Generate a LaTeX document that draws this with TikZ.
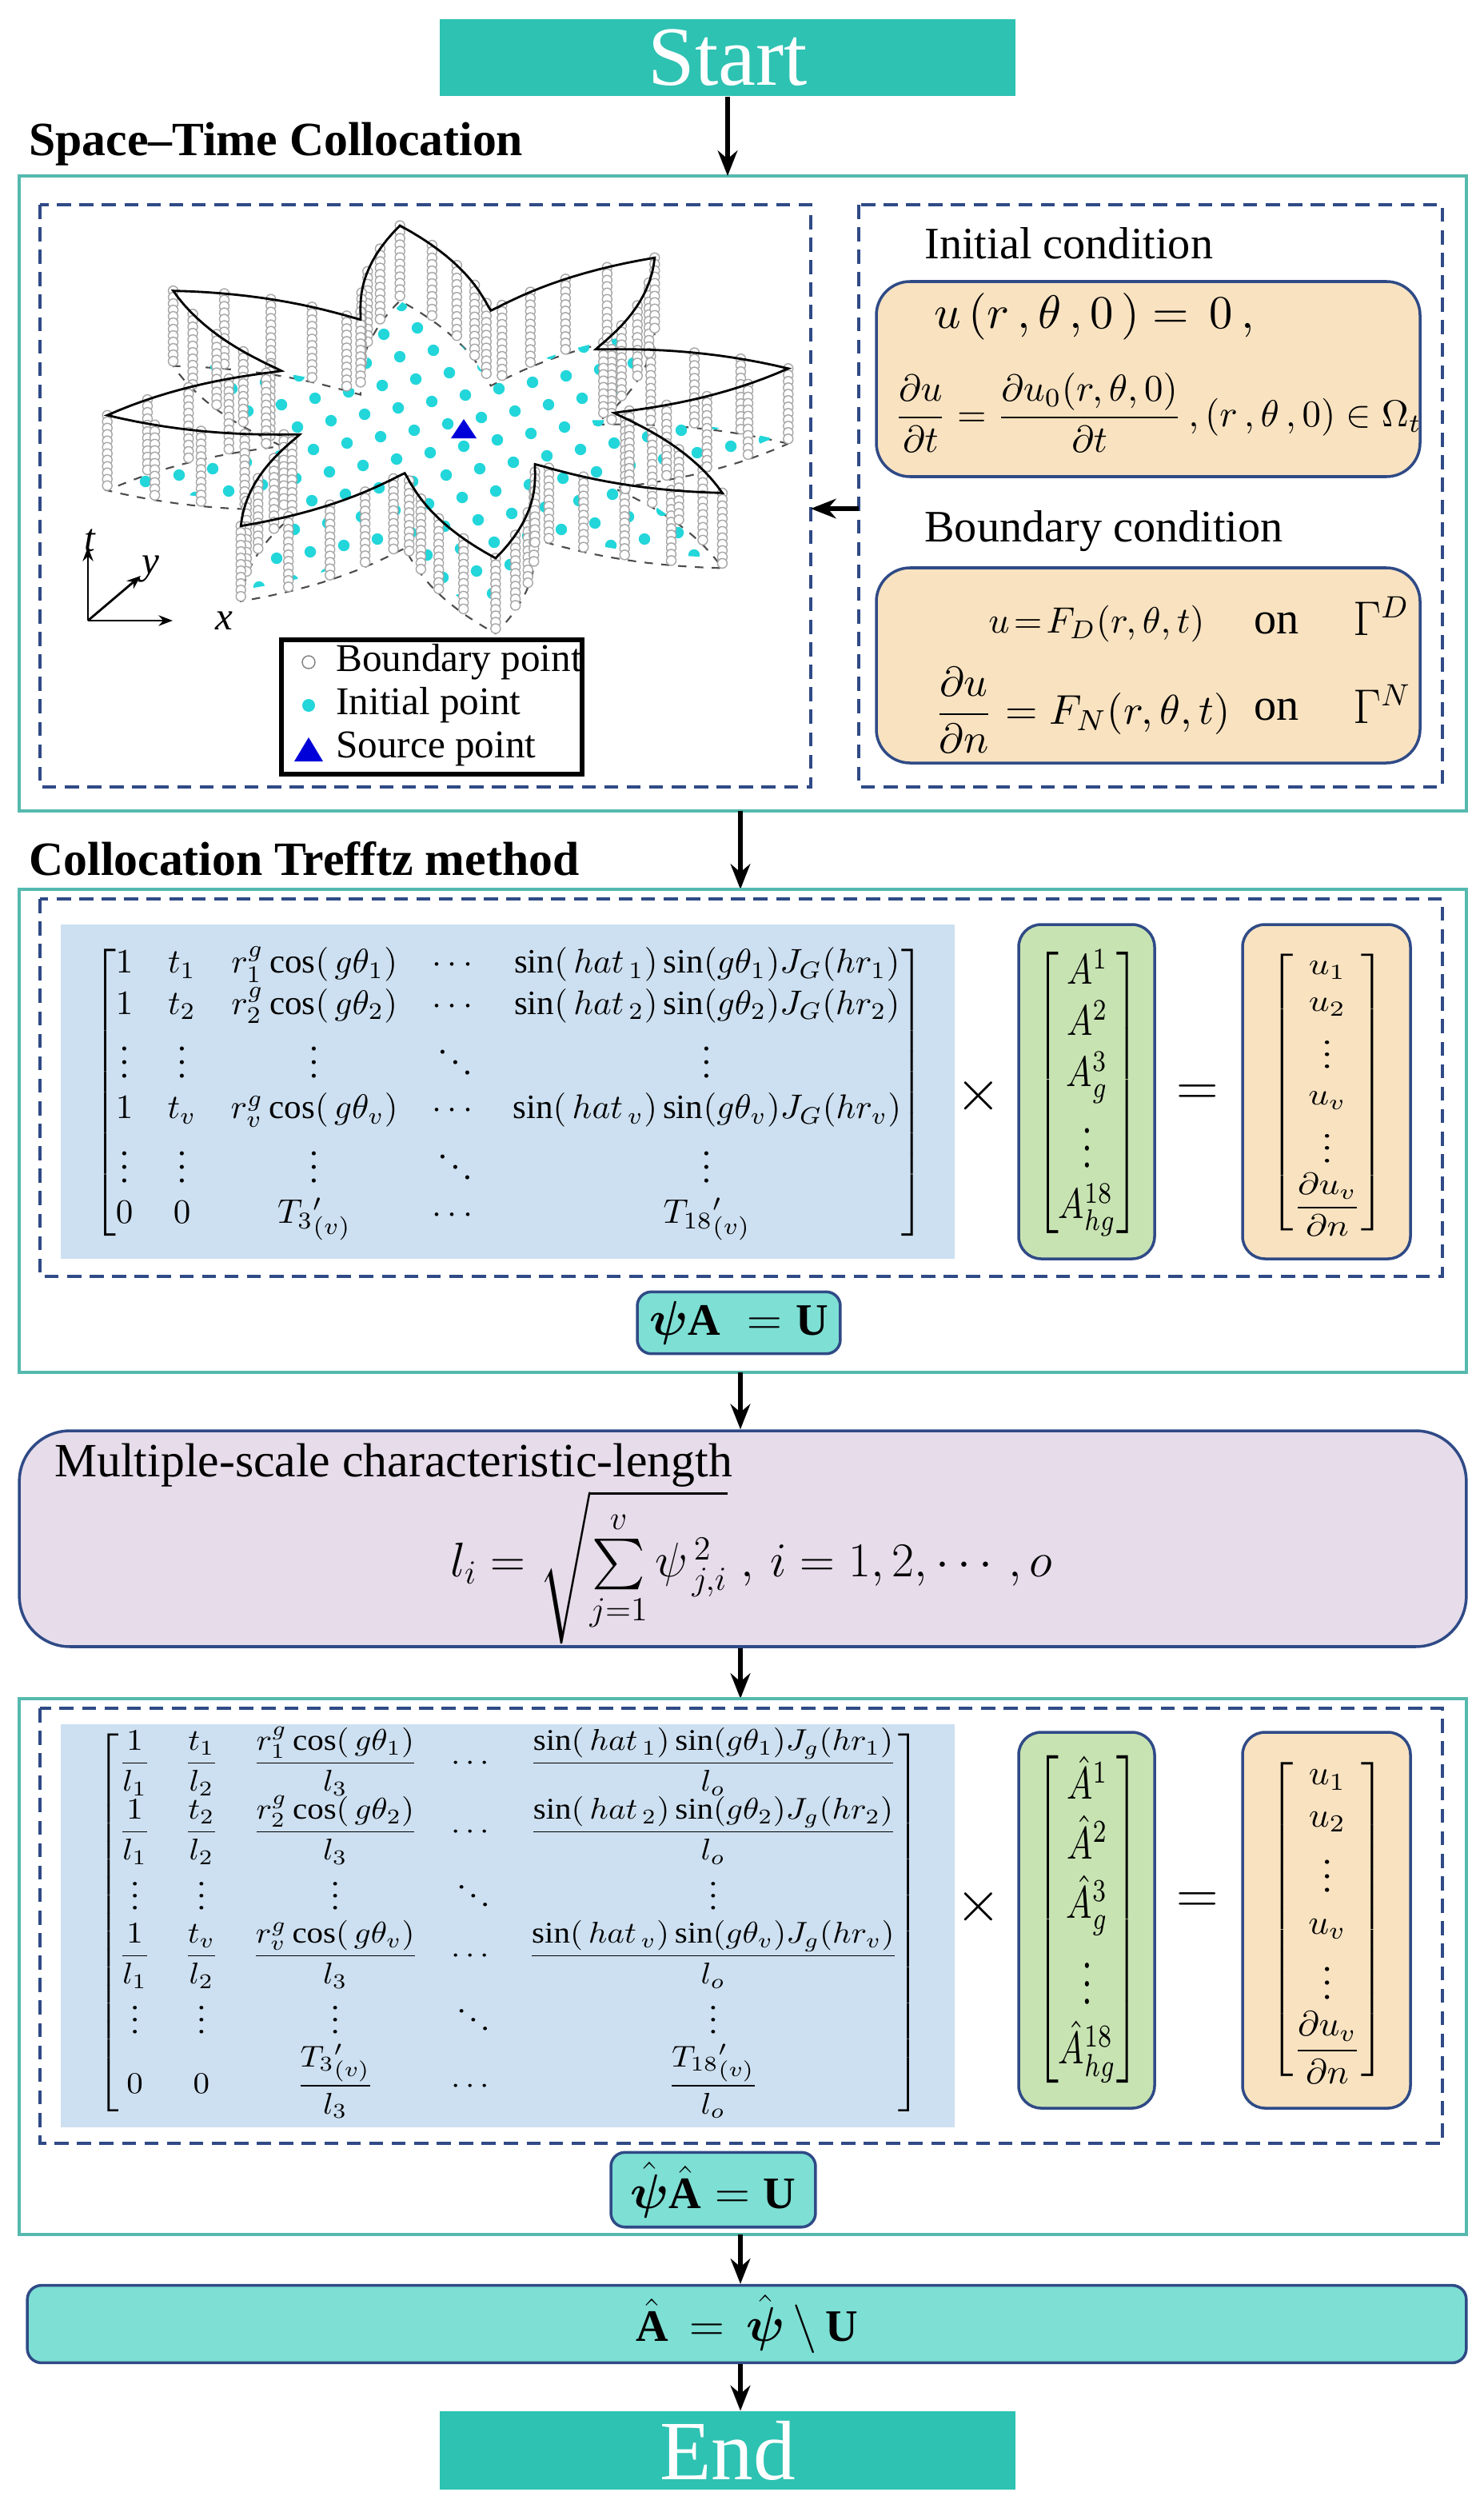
\documentclass[tikz,border=0pt]{standalone}
\usepackage{amsmath}
\usepackage{amssymb}
\usepackage{fontspec}
\setmainfont{Liberation Serif}
\usepackage{graphicx}
\usetikzlibrary{arrows.meta}
\definecolor{teal1}{HTML}{2EC2B2}
\definecolor{teal2}{HTML}{7EDFD4}
\definecolor{frame}{HTML}{55B9AE}
\definecolor{dashc}{HTML}{2F4A86}
\definecolor{tan1}{HTML}{F8E2C0}
\definecolor{green1}{HTML}{C8E3B2}
\definecolor{blue1}{HTML}{CDE0F1}
\definecolor{purp}{HTML}{E6DCEA}
\definecolor{cyan1}{HTML}{22D6DA}
\begin{document}
\begin{tikzpicture}[x=0.02cm,y=-0.02cm,
  term/.style={fill=teal1,draw=none,minimum width=7.2cm,minimum height=0.96cm,text=white,font=\fontsize{30}{32}\selectfont},
  outer/.style={draw=frame,line width=1pt},
  dbox/.style={draw=dashc,dashed,line width=0.9pt,dash pattern=on 5pt off 3pt},
  rbox/.style={draw=dashc,line width=1pt,rounded corners=12pt},
  eqbox/.style={fill=teal2,draw=dashc,line width=1pt,rounded corners=5pt,font=\fontsize{16}{18}\selectfont},
  head/.style={anchor=west,font=\bfseries\fontsize{17}{19}\selectfont},
  txt/.style={anchor=west,font=\fontsize{16}{18}\selectfont},
  lgd/.style={anchor=west,font=\fontsize{14}{16}\selectfont},
  arr/.style={-{Stealth[length=9pt,width=7pt]},line width=1.6pt}]
\useasboundingbox (0,0) rectangle (928,1568);
\fill[white] (0,0) rectangle (928,1568);
% Start
\node[term] (start) at (455,36) {Start};
\node[head] (h1) at (12,90) {Space–Time Collocation};
\draw[outer] (12,110) rectangle (917,507);
\coordinate (o1top) at (455,110);
\draw[arr] (start.south) -- (o1top);
\draw[dbox] (25,128) rectangle (507,492);
\draw[dbox] (537,128) rectangle (902,492);
% star figure
\def\rr#1{(0.5+0.5*(abs(1-2*mod(#1+720,45)/45))^1.15)}
\begin{scope}
\draw[black!70,dashed,line width=0.6pt] plot[domain=0:360,samples=241] ({280+215*\rr{\x}*cos(\x+8)},{292-105*\rr{\x}*sin(\x+8)}) -- cycle;
\begin{scope}
\clip plot[domain=0:360,samples=241] ({280+205*\rr{\x}*cos(\x+8)},{288-100*\rr{\x}*sin(\x+8)}) -- cycle;
\foreach \i in {-12,...,12}{\foreach \j in {-8,...,8}{
  \fill[cyan1] ({280+\i*21+\j*10},{265+\j*14-\i*4}) circle (3.6);}}
\end{scope}
\foreach \t in {0,5,...,355}{
  \foreach \k in {0,...,11}{
   \draw[gray!70,fill=white,line width=0.4pt] ({280+215*\rr{\t}*cos(\t+8)},{245-105*\rr{\t}*sin(\t+8)+\k*4}) circle (3);}}
\draw[black,line width=0.8pt] plot[domain=0:360,samples=241] ({280+215*\rr{\x}*cos(\x+8)},{245-105*\rr{\x}*sin(\x+8)}) -- cycle;
\fill[blue!85!black] (282,274) -- (298,274) -- (290,262) -- cycle;
\end{scope}
% axes
\coordinate (ax0) at (55,388);
\coordinate (axt) at (55,342);
\coordinate (axx) at (108,388);
\coordinate (axy) at (88,360);
\draw[-{Stealth[length=5pt]},line width=0.8pt] (ax0) -- (axt);
\draw[-{Stealth[length=5pt]},line width=0.8pt] (ax0) -- (axx);
\draw[-{Stealth[length=5pt]},line width=0.8pt] (ax0) -- (axy);
\node[font=\itshape\fontsize{14}{14}\selectfont] (lt) at (56,338) {t};
\node[font=\itshape\fontsize{14}{14}\selectfont] (ly) at (94,356) {y};
\node[font=\itshape\fontsize{14}{14}\selectfont] (lx) at (140,388) {x};
% legend
\draw[black,line width=1.8pt] (176,400) rectangle (364,484);
\draw[gray,fill=white] (193,414) circle (4);
\fill[cyan1] (193,441) circle (4);
\fill[blue!85!black] (184,476) -- (202,476) -- (193,461) -- cycle;
\node[lgd] (lg1) at (204,414) {Boundary point};
\node[lgd] (lg2) at (204,441) {Initial point};
\node[lgd] (lg3) at (204,468) {Source point};
% conditions
\node[txt] (ic) at (572,152) {Initial condition};
\draw[rbox,fill=tan1] (548,176) rectangle (888,298);
\node[anchor=west] (ic1) at (578,198) {\resizebox{4.0cm}{!}{$u\,(r\,,\theta\,,0\,)=\,0\,,$}};
\node[anchor=west] (ic2) at (553,258) {\resizebox{6.6cm}{!}{$\dfrac{\partial u}{\partial t}=\dfrac{\partial u_0(r,\theta,0)}{\partial t}\,,(r\,,\theta\,,0)\in\Omega_t$}};
\node[txt] (bc) at (572,332) {Boundary condition};
\draw[rbox,fill=tan1] (548,355) rectangle (888,477);
\node[anchor=west] (bc1) at (612,390) {\resizebox{2.7cm}{!}{$u\!=\!F_D(r,\theta,t)$}};
\node[anchor=west] (bc1b) at (778,390) {\fontsize{16}{18}\selectfont on};
\node[anchor=west] (bc1c) at (840,385) {\fontsize{16}{18}\selectfont$\Gamma^D$};
\node[anchor=west] (bc2) at (578,444) {\resizebox{3.7cm}{!}{$\dfrac{\partial u}{\partial n}=F_N(r,\theta,t)$}};
\node[anchor=west] (bc2b) at (778,444) {\fontsize{16}{18}\selectfont on};
\node[anchor=west] (bc2c) at (840,440) {\fontsize{16}{18}\selectfont$\Gamma^N$};
\coordinate (rightd) at (537,318);
\coordinate (leftd) at (507,318);
\draw[arr] (rightd) -- (leftd);
% section 2
\coordinate (o1b) at (463,507);
\coordinate (o2t) at (463,556);
\draw[arr] (o1b) -- (o2t);
\node[head] (h2) at (12,537) {Collocation Trefftz method};
\draw[outer] (12,556) rectangle (917,858);
\draw[dbox] (25,562) rectangle (902,798);
\fill[blue1] (38,578) rectangle (597,787);
\node (m1) at (318,683) {\resizebox*{10.4cm}{3.7cm}{$\begin{bmatrix}
1 & t_1 & r_1^g\cos(\,g\theta_1) & \cdots & \sin(\,hat_{\,1})\sin(g\theta_1)J_G(hr_1)\\
1 & t_2 & r_2^g\cos(\,g\theta_2) & \cdots & \sin(\,hat_{\,2})\sin(g\theta_2)J_G(hr_2)\\
\vdots & \vdots & \vdots & \ddots & \vdots\\
1 & t_v & r_v^g\cos(\,g\theta_v) & \cdots & \sin(\,hat_{\,v})\sin(g\theta_v)J_G(hr_v)\\
\vdots & \vdots & \vdots & \ddots & \vdots\\
0 & 0 & T_3{}'_{(v)} & \cdots & T_{18}{}'_{(v)}
\end{bmatrix}$}};
\draw[rbox,fill=green1,rounded corners=8pt] (637,578) rectangle (722,787);
\node (v1) at (680,683) {\resizebox*{1.3cm}{3.6cm}{$\begin{bmatrix}A^1\\A^2\\A_g^3\\\vdots\\A_{hg}^{18}\end{bmatrix}$}};
\draw[rbox,fill=tan1,rounded corners=8pt] (777,578) rectangle (882,787);
\node (w1) at (830,683) {\resizebox*{1.45cm}{3.6cm}{$\begin{bmatrix}u_1\\u_2\\\vdots\\u_v\\\vdots\\\dfrac{\partial u_v}{\partial n}\end{bmatrix}$}};
\node[font=\fontsize{22}{22}\selectfont] (x1) at (612,685) {$\times$};
\node[font=\fontsize{22}{22}\selectfont] (e1) at (749,685) {$=$};
\node[eqbox,minimum width=2.54cm,minimum height=0.76cm] (eq1) at (462,827) {$\boldsymbol{\psi}\mathbf{A}\;=\mathbf{U}$};
% purple
\node[draw=dashc,fill=purp,line width=1pt,rounded corners=18pt,minimum width=18.1cm,minimum height=2.7cm] (mp) at (464.5,962) {};
\coordinate (o2b) at (463,858);
\draw[arr] (o2b) -- (o2b |- mp.north);
\node[txt,font=\fontsize{17}{19}\selectfont] (mpt) at (28,916) {Multiple-scale characteristic-length};
\node (mpf) at (470,980) {\fontsize{18}{22}\selectfont$l_i=\sqrt{\sum\limits_{j=1}^{v}\psi_{\,j,i}^{\,2}}\;,\,i=1,2,\cdots,o$};
% section 3
\coordinate (o3t) at (463,1062);
\draw[arr] (o3t |- mp.south) -- (o3t);
\draw[outer] (12,1062) rectangle (917,1397);
\draw[dbox] (25,1068) rectangle (902,1340);
\fill[blue1] (38,1078) rectangle (597,1330);
\node (m2) at (318,1202) {\resizebox*{10.3cm}{4.9cm}{$\begin{bmatrix}
\dfrac{1}{l_1} & \dfrac{t_1}{l_2} & \dfrac{r_1^g\cos(\,g\theta_1)}{l_3} & \cdots & \dfrac{\sin(\,hat_{\,1})\sin(g\theta_1)J_g(hr_1)}{l_o}\\
\dfrac{1}{l_1} & \dfrac{t_2}{l_2} & \dfrac{r_2^g\cos(\,g\theta_2)}{l_3} & \cdots & \dfrac{\sin(\,hat_{\,2})\sin(g\theta_2)J_g(hr_2)}{l_o}\\
\vdots & \vdots & \vdots & \ddots & \vdots\\
\dfrac{1}{l_1} & \dfrac{t_v}{l_2} & \dfrac{r_v^g\cos(\,g\theta_v)}{l_3} & \cdots & \dfrac{\sin(\,hat_{\,v})\sin(g\theta_v)J_g(hr_v)}{l_o}\\
\vdots & \vdots & \vdots & \ddots & \vdots\\
0 & 0 & \dfrac{T_3{}'_{(v)}}{l_3} & \cdots & \dfrac{T_{18}{}'_{(v)}}{l_o}
\end{bmatrix}$}};
\draw[rbox,fill=green1,rounded corners=8pt] (637,1083) rectangle (722,1318);
\node (v2) at (680,1200) {\resizebox*{1.3cm}{4.1cm}{$\begin{bmatrix}\hat{A}^1\\\hat{A}^2\\\hat{A}_g^3\\\vdots\\\hat{A}_{hg}^{18}\end{bmatrix}$}};
\draw[rbox,fill=tan1,rounded corners=8pt] (777,1083) rectangle (882,1318);
\node (w2) at (830,1200) {\resizebox*{1.45cm}{4.1cm}{$\begin{bmatrix}u_1\\u_2\\\vdots\\u_v\\\vdots\\\dfrac{\partial u_v}{\partial n}\end{bmatrix}$}};
\node[font=\fontsize{22}{22}\selectfont] (x2) at (612,1192) {$\times$};
\node[font=\fontsize{22}{22}\selectfont] (e2) at (749,1190) {$=$};
\node[eqbox,minimum width=2.56cm,minimum height=0.76cm] (eq2) at (446,1369) {$\hat{\boldsymbol{\psi}}\hat{\mathbf{A}}=\mathbf{U}$};
% solve
\node[eqbox,minimum width=18cm,minimum height=0.92cm] (sol) at (467,1453) {$\hat{\mathbf{A}}\,=\,\hat{\boldsymbol{\psi}}\,\backslash\,\mathbf{U}$};
\coordinate (o3b) at (463,1397);
\draw[arr] (o3b) -- (o3b |- sol.north);
\node[term] (end) at (455,1532) {End};
\draw[arr] (o3b |- sol.south) -- (o3b |- end.north);
\end{tikzpicture}
\end{document}
